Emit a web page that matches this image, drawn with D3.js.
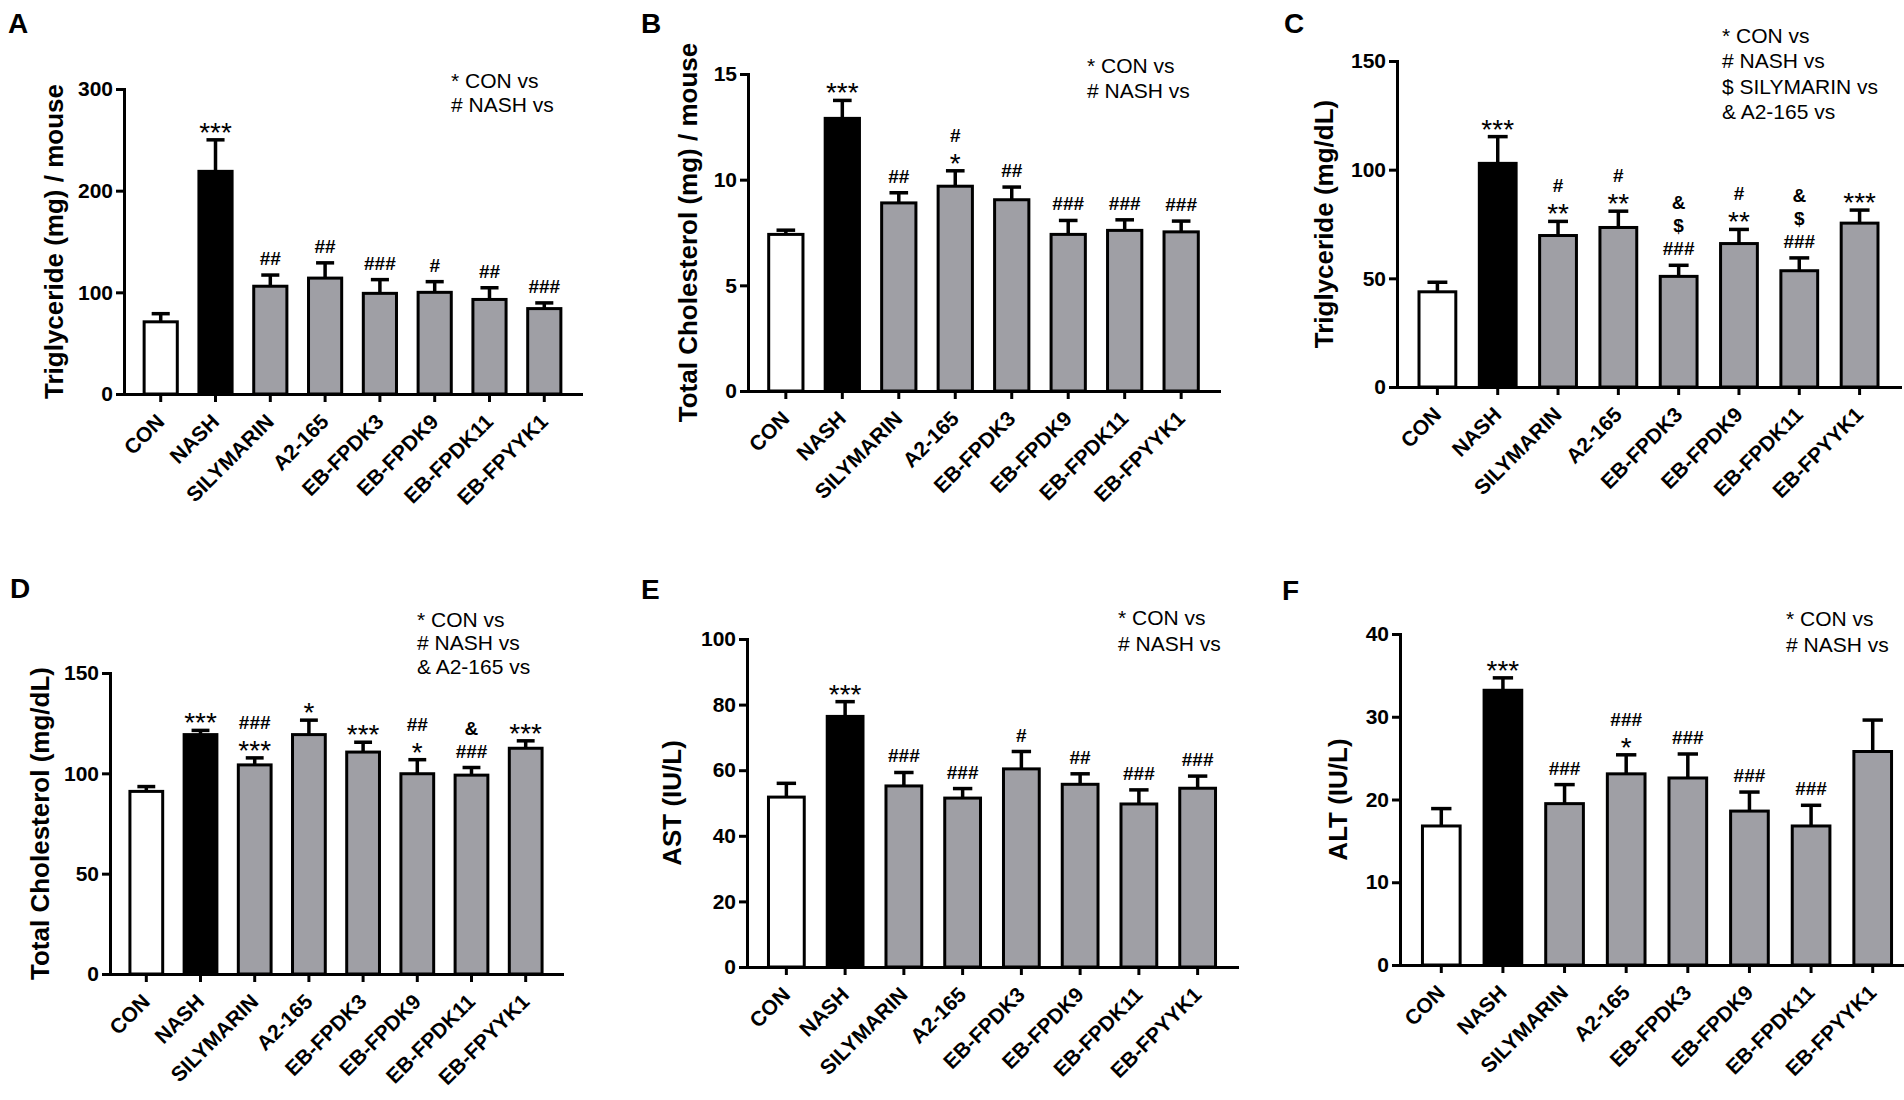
<!DOCTYPE html>
<html>
<head>
<meta charset="utf-8">
<script src="https://cdn.jsdelivr.net/npm/d3@7"></script>
<style>
  html, body { margin: 0; padding: 0; background: #fff; }
  svg text { font-family: "Liberation Sans", Arial, sans-serif; fill: #000; }
</style>
</head>
<body>
<script>
const W = 1904;
const H = 1100;

const categories = ["CON", "NASH", "SILYMARIN", "A2-165", "EB-FPDK3", "EB-FPDK9", "EB-FPDK11", "EB-FPYYK1"];
const barFills = ["#ffffff", "#000000", "#9f9fa5", "#9f9fa5", "#9f9fa5", "#9f9fa5", "#9f9fa5", "#9f9fa5"];

// A - triglyceride per mouse
const tgMouseMean = [71, 219, 106, 114, 99, 100, 93, 84];
const tgMouseErr = [8, 31, 11, 15, 13.5, 10.5, 11.5, 5.6];
const tgMouseSig = [[], ["***"], ["##"], ["##"], ["###"], ["#"], ["##"], ["###"]];
const tgMouseTicks = [0, 100, 200, 300];
const tgMouseLegend = ["* CON vs", "# NASH vs"];

// B - total cholesterol per mouse
const tcMouseMean = [7.41, 12.9, 8.9, 9.69, 9.05, 7.41, 7.6, 7.53];
const tcMouseErr = [0.2, 0.85, 0.48, 0.73, 0.6, 0.66, 0.5, 0.51];
const tcMouseSig = [[], ["***"], ["##"], ["#", "*"], ["##"], ["###"], ["###"], ["###"]];
const tcMouseTicks = [0, 5, 10, 15];
const tcMouseLegend = ["* CON vs", "# NASH vs"];

// C - serum triglyceride
const tgSerumMean = [43.8, 102.9, 69.7, 73.4, 50.9, 66, 53.5, 75.4];
const tgSerumErr = [4.4, 12.3, 6.5, 7.5, 5.1, 6.5, 5.9, 6];
const tgSerumSig = [[], ["***"], ["#", "**"], ["#", "**"], ["&", "$", "###"], ["#", "**"], ["&", "$", "###"], ["***"]];
const tgSerumTicks = [0, 50, 100, 150];
const tgSerumLegend = ["* CON vs", "# NASH vs", "$ SILYMARIN vs", "& A2-165 vs"];

// D - serum total cholesterol
const tcSerumMean = [91, 119.3, 104.2, 119.3, 110.6, 99.8, 99.1, 112.5];
const tcSerumErr = [2.4, 2.1, 3.5, 7.2, 4.9, 7, 3.8, 3.7];
const tcSerumSig = [[], ["***"], ["###", "***"], ["*"], ["***"], ["##", "*"], ["&", "###"], ["***"]];
const tcSerumTicks = [0, 50, 100, 150];
const tcSerumLegend = ["* CON vs", "# NASH vs", "& A2-165 vs"];

// E - AST
const astMean = [51.8, 76.4, 55.2, 51.5, 60.4, 55.7, 49.7, 54.5];
const astErr = [4.2, 4.5, 4.1, 2.9, 5.3, 3.2, 4.3, 3.7];
const astSig = [[], ["***"], ["###"], ["###"], ["#"], ["##"], ["###"], ["###"]];
const astTicks = [0, 20, 40, 60, 80, 100];
const astLegend = ["* CON vs", "# NASH vs"];

// F - ALT
const altMean = [16.8, 33.2, 19.5, 23.1, 22.6, 18.6, 16.8, 25.8];
const altErr = [2.1, 1.5, 2.3, 2.3, 2.9, 2.3, 2.5, 3.8];
const altSig = [[], ["***"], ["###"], ["###", "*"], ["###"], ["###"], ["###"], []];
const altTicks = [0, 10, 20, 30, 40];
const altLegend = ["* CON vs", "# NASH vs"];

const panels = [
  { letter: "A", lx: 8, ly: 33, x0: 124, x1: 581, y0: 394, y1: 89, ticks: tgMouseTicks,
    title: "Triglyceride (mg) / mouse", tx: 63, mean: tgMouseMean, err: tgMouseErr, sig: tgMouseSig,
    legend: tgMouseLegend, gx: 451, gy: 88, gs: 24.4 },
  { letter: "B", lx: 641, ly: 33, x0: 748, x1: 1219, y0: 391, y1: 74, ticks: tcMouseTicks,
    title: "Total Cholesterol (mg) / mouse", tx: 697, mean: tcMouseMean, err: tcMouseErr, sig: tcMouseSig,
    legend: tcMouseLegend, gx: 1087, gy: 73, gs: 25 },
  { letter: "C", lx: 1284, ly: 33, x0: 1397, x1: 1900, y0: 387, y1: 61, ticks: tgSerumTicks,
    title: "Triglyceride (mg/dL)", tx: 1333, mean: tgSerumMean, err: tgSerumErr, sig: tgSerumSig,
    legend: tgSerumLegend, gx: 1722, gy: 43, gs: 25.4 },
  { letter: "D", lx: 10, ly: 598, x0: 110, x1: 562, y0: 974, y1: 673, ticks: tcSerumTicks,
    title: "Total Cholesterol (mg/dL)", tx: 49, mean: tcSerumMean, err: tcSerumErr, sig: tcSerumSig,
    legend: tcSerumLegend, gx: 417, gy: 627, gs: 23.3 },
  { letter: "E", lx: 641, ly: 599, x0: 747, x1: 1237, y0: 967, y1: 639, ticks: astTicks,
    title: "AST (IU/L)", tx: 681, mean: astMean, err: astErr, sig: astSig,
    legend: astLegend, gx: 1118, gy: 625, gs: 26 },
  { letter: "F", lx: 1282, ly: 600, x0: 1400, x1: 1914, y0: 965, y1: 634, ticks: altTicks,
    title: "ALT (IU/L)", tx: 1347, mean: altMean, err: altErr, sig: altSig,
    legend: altLegend, gx: 1786, gy: 626, gs: 26 }
];

const svg = d3.select("body")
  .append("svg")
  .attr("width", W)
  .attr("height", H);

const isStars = s => /^\*+$/.test(s);

let drawPanel = (p) => {
  const g = svg.append("g");

  const x = d3.scaleBand()
    .domain(categories)
    .range([p.x0, p.x1])
    .paddingInner(0.34)
    .paddingOuter(0.34);
  const y = d3.scaleLinear()
    .domain([0, d3.max(p.ticks)])
    .range([p.y0, p.y1]);

  const bw = x.bandwidth();
  const cx = c => x(c) + bw / 2;
  const rows = categories.map((c, i) => ({ c: c, i: i, m: p.mean[i], e: p.err[i], sig: p.sig[i] }));

  // error bars (upper only)
  g.selectAll(".eb")
    .data(rows)
    .join("line")
    .attr("x1", d => cx(d.c))
    .attr("x2", d => cx(d.c))
    .attr("y1", d => y(d.m))
    .attr("y2", d => y(d.m + d.e))
    .attr("stroke", "#000")
    .attr("stroke-width", 3.5);
  g.selectAll(".cap")
    .data(rows)
    .join("line")
    .attr("x1", d => cx(d.c) - bw * 0.25)
    .attr("x2", d => cx(d.c) + bw * 0.25)
    .attr("y1", d => y(d.m + d.e))
    .attr("y2", d => y(d.m + d.e))
    .attr("stroke", "#000")
    .attr("stroke-width", 3.5);

  // bars
  g.selectAll(".bar")
    .data(rows)
    .join("rect")
    .attr("x", d => x(d.c) + 1.5)
    .attr("y", d => y(d.m))
    .attr("width", bw - 3)
    .attr("height", d => y(0) - y(d.m))
    .attr("fill", d => barFills[d.i])
    .attr("stroke", "#000")
    .attr("stroke-width", 3);

  // axes
  const yAxis = d3.axisLeft(y).tickValues(p.ticks).tickSize(8).tickSizeOuter(0).tickPadding(3);
  const ya = g.append("g")
    .attr("transform", "translate(" + p.x0 + ",0)")
    .call(yAxis);
  const xAxis = d3.axisBottom(x).tickSize(8).tickSizeOuter(0).tickFormat("");
  const xa = g.append("g")
    .attr("transform", "translate(0," + p.y0 + ")")
    .call(xAxis);
  [ya, xa].forEach(a => {
    a.select(".domain").attr("stroke-width", 3).attr("stroke-linecap", "square");
    a.selectAll(".tick line").attr("stroke-width", 3);
  });
  ya.selectAll(".tick text")
    .style("font-size", "21px")
    .style("font-weight", "bold")
    .style("font-family", "'Liberation Sans', Arial, sans-serif");

  // category labels
  g.selectAll(".cat")
    .data(categories)
    .join("text")
    .attr("transform", c => "translate(" + (cx(c) + 5) + "," + (p.y0 + 29) + ") rotate(-45)")
    .attr("text-anchor", "end")
    .style("font-size", "21px")
    .style("font-weight", "bold")
    .text(c => c);

  // y title
  g.append("text")
    .attr("transform", "translate(" + p.tx + "," + ((p.y0 + p.y1) / 2) + ") rotate(-90)")
    .attr("text-anchor", "middle")
    .style("font-size", "26px")
    .style("font-weight", "bold")
    .text(p.title);

  // significance marks, stacked upward from the error bar top
  rows.forEach(d => {
    let bottom = y(d.m + d.e) - 10;
    for (let k = d.sig.length - 1; k >= 0; k--) {
      const s = d.sig[k];
      const star = isStars(s);
      g.append("text")
        .attr("x", cx(d.c))
        .attr("y", star ? bottom + 12 : bottom)
        .attr("text-anchor", "middle")
        .style("font-size", star ? "28px" : "19px")
        .style("font-weight", star ? "normal" : "bold")
        .text(s);
      bottom -= star ? 19 : 23;
    }
  });

  // legend
  g.selectAll(".leg")
    .data(p.legend)
    .join("text")
    .attr("x", p.gx)
    .attr("y", (t, i) => p.gy + i * p.gs)
    .style("font-size", "21px")
    .text(t => t);

  // panel letter
  g.append("text")
    .attr("x", p.lx)
    .attr("y", p.ly)
    .style("font-size", "28px")
    .style("font-weight", "bold")
    .text(p.letter);
};

panels.forEach(drawPanel);
</script>
</body>
</html>
